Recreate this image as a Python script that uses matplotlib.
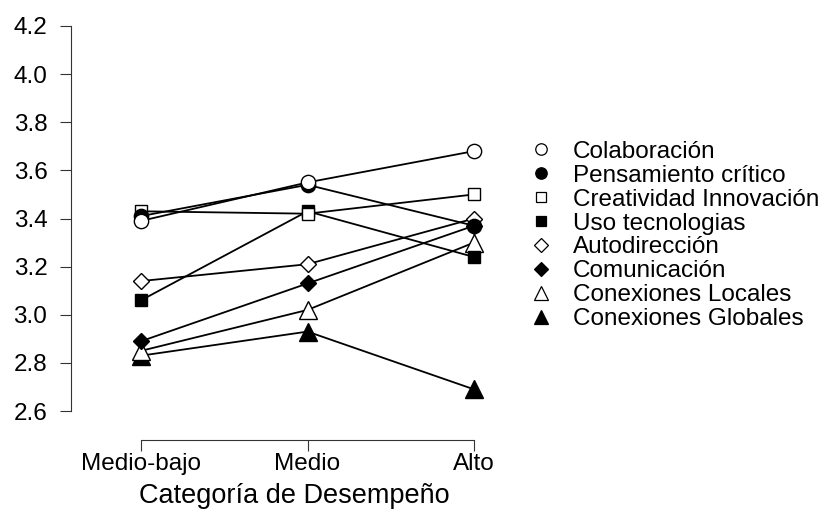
import matplotlib
matplotlib.use('Agg')
import matplotlib.pyplot as plt
from matplotlib.lines import Line2D

plt.rcParams['font.family'] = ['Liberation Sans', 'DejaVu Sans']

categorias = ['Medio-bajo', 'Medio', 'Alto']

colaboracion = [3.39, 3.55, 3.68]
pensamiento = [3.41, 3.54, 3.37]
creatividad = [3.43, 3.42, 3.50]
uso_tec = [3.06, 3.43, 3.24]
autodireccion = [3.14, 3.21, 3.40]
comunicacion = [2.89, 3.13, 3.37]
con_locales = [2.85, 3.02, 3.30]
con_globales = [2.83, 2.93, 2.69]

series = [
    ('Colaboración', colaboracion, 'o', 'white', 10.3),
    ('Pensamiento crítico', pensamiento, 'o', 'black', 10.3),
    ('Creatividad Innovación', creatividad, 's', 'white', 8.5),
    ('Uso tecnologias', uso_tec, 's', 'black', 8.5),
    ('Autodirección', autodireccion, 'D', 'white', 8.5),
    ('Comunicación', comunicacion, 'D', 'black', 8.5),
    ('Conexiones Locales', con_locales, '^', 'white', 12.8),
    ('Conexiones Globales', con_globales, '^', 'black', 12.8),
]

fs = 17.5

fig = plt.figure(figsize=(8.27, 5.12), dpi=100)
ax = fig.add_axes([71/827, 1-411/512, 446/827, 385/512])

x = list(range(len(categorias)))
# draw in reverse so the open circle etc. land on top like the original
for name, vals, mk, fc, ms in reversed(series):
    ax.plot(x, vals, color='black', lw=1.3, marker=mk, ms=ms,
            mfc=fc, mec='black', mew=1.0, clip_on=False)

ax.set_xlim(-70/166.5, (517-141)/166.5)
ax.set_ylim(2.6, 4.2)
ax.set_yticks([2.6, 2.8, 3.0, 3.2, 3.4, 3.6, 3.8, 4.0, 4.2])
ax.set_yticklabels(['2.6', '2.8', '3.0', '3.2', '3.4', '3.6', '3.8', '4.0', '4.2'])
ax.set_xticks(x)
ax.set_xticklabels(categorias)

for s in ['top', 'right']:
    ax.spines[s].set_visible(False)
ax.spines['bottom'].set_position(('outward', 21))
ax.spines['bottom'].set_bounds(0, 2)
ax.spines['left'].set_bounds(2.6, 4.2)
for s in ['left', 'bottom']:
    ax.spines[s].set_linewidth(0.8)
    ax.spines[s].set_color('#333333')
ax.tick_params(axis='both', length=8, width=0.8, color='#333333', labelsize=fs)
ax.tick_params(axis='y', pad=9)
ax.tick_params(axis='x', pad=1)
ax.set_xlabel('Categoría de Desempeño', fontsize=19.5, labelpad=6)

handles = [Line2D([], [], ls='none', marker=mk, ms=ms*0.8, mfc=fc, mec='black', mew=0.9)
           for name, vals, mk, fc, ms in series]
labels = [s[0] for s in series]
fig.legend(handles, labels, loc='center left', bbox_to_anchor=(529/827, 1-235.5/512),
           frameon=False, fontsize=fs, borderpad=0, borderaxespad=0,
           handlelength=1, handletextpad=0.8, labelspacing=0.08)

fig.savefig('out.png', dpi=100)
